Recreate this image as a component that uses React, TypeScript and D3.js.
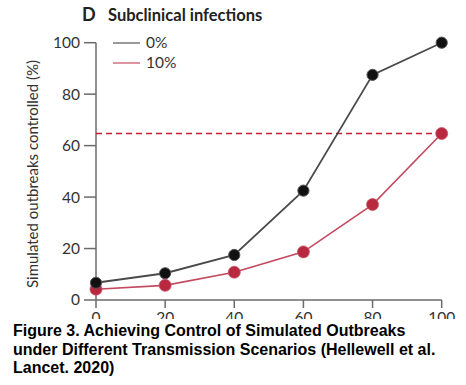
import React from "react";
import * as d3 from "d3";

const xValues = [0, 20, 40, 60, 80, 100];
const series0 = [6.7, 10.4, 17.5, 42.5, 87.5, 100];
const series10 = [4.2, 5.7, 10.8, 18.7, 37.1, 64.7];
const threshold = 64.7;
const yTicks = [0, 20, 40, 60, 80, 100];
const xTicks = [0, 20, 40, 60, 80, 100];
const legendLabels = ["0%", "10%"];
const captionLines = [
  "Figure 3. Achieving Control of Simulated Outbreaks",
  "under Different Transmission Scenarios (Hellewell et al.",
  "Lancet. 2020)",
];

export default function App() {
  const W = 466;
  const H = 385;
  const x = d3.scaleLinear().domain([0, 100]).range([96, 441.7]);
  const y = d3.scaleLinear().domain([0, 100]).range([300, 42.7]);
  const line = d3
    .line<number>()
    .x((_, i) => x(xValues[i]))
    .y((d) => y(d));
  const font = "Lato, 'Open Sans', sans-serif";
  const axisColor = "#6b6b6b";
  const textColor = "#333";
  const red = "#b8293f";
  const colors = ["#4a4a4a", "#c4485e"];

  return (
    <svg
      width={W}
      height={H}
      style={{ position: "absolute", left: 0, top: 0, background: "#fff" }}
    >
      <rect x={0} y={0} width={W} height={H} fill="#fff" />
      {/* title */}
      <text x={82} y={21} fontFamily={font} fontSize={18} fontWeight={700} fill="#222">
        D
      </text>
      <text x={108} y={21} fontFamily={font} fontSize={16.5} fontWeight={700} fill="#222">
        Subclinical infections
      </text>
      {/* y axis label */}
      <text
        transform={`translate(38, 174) rotate(-90)`}
        textAnchor="middle"
        fontFamily={font}
        fontSize={15}
        fill={textColor}
      >
        Simulated outbreaks controlled (%)
      </text>
      {/* y axis */}
      <line x1={x(0)} x2={x(0)} y1={y(0)} y2={y(100)} stroke={axisColor} strokeWidth={1.5} />
      {yTicks.map((t) => (
        <g key={"y" + t}>
          <line x1={x(0) - 12} x2={x(0)} y1={y(t)} y2={y(t)} stroke={axisColor} strokeWidth={1.5} />
          <text
            x={x(0) - 16}
            y={y(t)}
            dy="0.35em"
            textAnchor="end"
            fontFamily={font}
            fontSize={15.5}
            fill={textColor}
          >
            {t}
          </text>
        </g>
      ))}
      {/* x axis */}
      <line x1={x(0)} x2={x(100)} y1={y(0)} y2={y(0)} stroke={axisColor} strokeWidth={1.5} />
      {xTicks.map((t) => (
        <g key={"x" + t}>
          <line x1={x(t)} x2={x(t)} y1={y(0)} y2={y(0) + 8} stroke={axisColor} strokeWidth={1.5} />
          <text
            x={x(t)}
            y={323}
            textAnchor="middle"
            fontFamily={font}
            fontSize={15.5}
            fill={textColor}
          >
            {t}
          </text>
        </g>
      ))}
      {/* threshold */}
      <line
        x1={x(0)}
        x2={x(100)}
        y1={y(threshold)}
        y2={y(threshold)}
        stroke="#c41e30"
        strokeWidth={1.6}
        strokeDasharray="6,4"
      />
      {/* lines */}
      <path d={line(series10) || ""} fill="none" stroke={colors[1]} strokeWidth={1.6} />
      <path d={line(series0) || ""} fill="none" stroke={colors[0]} strokeWidth={1.8} />
      {series10.map((v, i) => (
        <circle key={"r" + i} cx={x(xValues[i])} cy={y(v)} r={6} fill={red} stroke="#c9566a" strokeWidth={0.8} />
      ))}
      {series0.map((v, i) => (
        <circle key={"b" + i} cx={x(xValues[i])} cy={y(v)} r={5.6} fill="#111" stroke="#555" strokeWidth={1} />
      ))}
      {/* legend */}
      {legendLabels.map((l, i) => (
        <g key={l}>
          <line x1={113} x2={140} y1={43 + i * 20} y2={43 + i * 20} stroke={i === 0 ? "#555" : "#c4485e"} strokeWidth={1.2} />
          <text x={146} y={43 + i * 20} dy="0.35em" fontFamily={font} fontSize={15.5} fill={textColor}>
            {l}
          </text>
        </g>
      ))}
      {/* caption */}
      <rect x={0} y={319} width={W} height={H - 319} fill="#fff" />
      {captionLines.map((c, i) => (
        <text
          key={i}
          x={13}
          y={336 + i * 18.5}
          fontFamily="'Liberation Sans', Arial, sans-serif"
          fontSize={16}
          fontWeight={700}
          fill="#000"
        >
          {c}
        </text>
      ))}
    </svg>
  );
}
